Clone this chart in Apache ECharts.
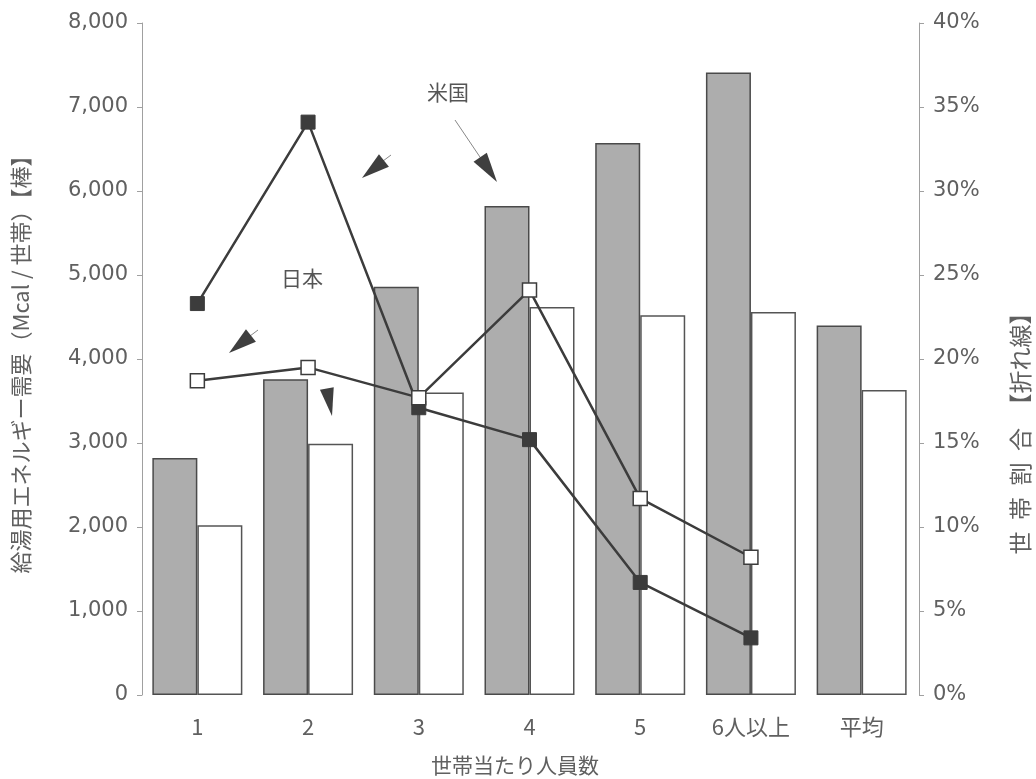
<!DOCTYPE html>
<html>
<head>
<meta charset="utf-8">
<script src="https://cdn.jsdelivr.net/npm/echarts@6/dist/echarts.min.js"></script>
<style>
  html, body { margin: 0; padding: 0; background: #fff; }
  #chart { width: 1036px; height: 779px; }
</style>
</head>
<body>
<div id="chart"></div>
<script>
// Household size categories
const categories = ['1', '2', '3', '4', '5', '6人以上', '平均'];

// Hot-water energy demand per household (Mcal / household) — bars
const demandUS    = [2820, 3760, 4860, 5820, 6570, 7410, 4400];
const demandJapan = [2020, 2990, 3600, 4620, 4520, 4560, 3630];

// Share of households by size (%) — lines (no value for the average column)
const shareUS    = [23.3, 34.1, 17.1, 15.2, 6.7, 3.4, null];
const shareJapan = [18.7, 19.5, 17.7, 24.1, 11.7, 8.2, null];

// Axis tick settings
const leftMax = 8000, leftStep = 1000;
const rightMax = 40, rightStep = 5;

const TXT = '#606060';
const INK = '#3c3c3c';
const FONT = '"DejaVu Sans", "Noto Sans CJK JP", sans-serif';
const JFONT = '"Noto Sans CJK JP", "DejaVu Sans", sans-serif';

// Build a filled arrow head polygon from a tail point towards a tip point
function arrowHead(tail, tip, len, halfW) {
  const dx = tip[0] - tail[0], dy = tip[1] - tail[1];
  const d = Math.hypot(dx, dy);
  const ux = dx / d, uy = dy / d;
  const bx = tip[0] - ux * len, by = tip[1] - uy * len;
  return [tip, [bx - uy * halfW, by + ux * halfW], [bx + uy * halfW, by - ux * halfW]];
}

const chart = echarts.init(document.getElementById('chart'), null, { renderer: 'canvas' });

const arrowStyle = { fill: '#3f3f3f' };
const EN = '\u2002';

chart.setOption({
  animation: false,
  backgroundColor: '#fff',
  grid: { left: 142, right: 119, top: 23, bottom: 84, outerBoundsMode: 'none', containLabel: false },
  xAxis: {
    type: 'category',
    data: categories,
    axisLine: { show: false },
    axisTick: { show: false },
    axisLabel: { fontSize: 22, color: TXT, margin: 21, fontFamily: JFONT }
  },
  yAxis: [
    {
      type: 'value', min: 0, max: leftMax, interval: leftStep,
      position: 'left',
      axisLine: { show: true, lineStyle: { color: '#a0a0a0', width: 1 } },
      axisTick: { show: true, length: 5, lineStyle: { color: '#a0a0a0' } },
      splitLine: { show: false },
      axisLabel: {
        fontSize: 21, color: TXT, margin: 14, fontFamily: FONT,
        formatter: v => v.toLocaleString('en-US')
      },
      name: '給湯用エネルギー需要（Mcal / 世帯）【棒】',
      nameLocation: 'middle',
      nameGap: 110,
      nameRotate: 90,
      nameTextStyle: { fontSize: 22, color: TXT, fontFamily: JFONT }
    },
    {
      type: 'value', min: 0, max: rightMax, interval: rightStep,
      position: 'right',
      offset: 2,
      axisLine: { show: true, lineStyle: { color: '#a0a0a0', width: 1 } },
      axisTick: { show: true, length: 5, lineStyle: { color: '#a0a0a0' } },
      splitLine: { show: false },
      axisLabel: {
        fontSize: 21, color: TXT, margin: 14, fontFamily: FONT,
        formatter: v => v + '%'
      }
    }
  ],
  series: [
    {
      name: '米国', type: 'bar', data: demandUS,
      barWidth: 45, barGap: '0%',
      itemStyle: { color: '#adadad', borderColor: '#4a4a4a', borderWidth: 1.5 }
    },
    {
      name: '日本', type: 'bar', data: demandJapan,
      barWidth: 45, barGap: '0%',
      itemStyle: { color: '#ffffff', borderColor: '#555555', borderWidth: 1.5 }
    },
    {
      name: '米国 世帯割合', type: 'line', yAxisIndex: 1, data: shareUS,
      symbol: 'rect', symbolSize: 14, z: 5,
      lineStyle: { color: INK, width: 2.5 },
      itemStyle: { color: INK, borderColor: INK, borderWidth: 1 }
    },
    {
      name: '日本 世帯割合', type: 'line', yAxisIndex: 1, data: shareJapan,
      symbol: 'rect', symbolSize: 14, z: 6,
      lineStyle: { color: INK, width: 2.5 },
      itemStyle: { color: '#ffffff', borderColor: INK, borderWidth: 1.5 }
    }
  ],
  graphic: [
    // right axis title, read bottom to top
    {
      type: 'text', x: 1020, y: 428, rotation: Math.PI / 2,
      style: {
        text: ['世', '帯', '割', '合'].join(EN) + EN + '【折れ線】',
        fill: TXT, font: '23px ' + JFONT,
        align: 'center', verticalAlign: 'middle'
      }
    },
    // x axis title
    {
      type: 'text', x: 515, y: 765,
      style: {
        text: '世帯当たり人員数', fill: TXT, font: '21px ' + JFONT,
        align: 'center', verticalAlign: 'middle'
      }
    },
    // series call-outs
    {
      type: 'text', x: 448, y: 92,
      style: { text: '米国', fill: '#555', font: '21px ' + JFONT, align: 'center', verticalAlign: 'middle' }
    },
    {
      type: 'text', x: 302, y: 278,
      style: { text: '日本', fill: '#555', font: '21px ' + JFONT, align: 'center', verticalAlign: 'middle' }
    },
    {
      type: 'line', shape: { x1: 455, y1: 120, x2: 484, y2: 163 },
      style: { stroke: '#888', lineWidth: 1 }
    },
    { type: 'polygon', shape: { points: arrowHead([455, 120], [497, 182], 30, 8) }, style: arrowStyle },
    {
      type: 'line', shape: { x1: 391, y1: 155, x2: 383, y2: 161 },
      style: { stroke: '#888', lineWidth: 1 }
    },
    { type: 'polygon', shape: { points: arrowHead([391, 155], [362, 178], 28, 8) }, style: arrowStyle },
    {
      type: 'line', shape: { x1: 258, y1: 330, x2: 250, y2: 336 },
      style: { stroke: '#888', lineWidth: 1 }
    },
    { type: 'polygon', shape: { points: arrowHead([258, 330], [229, 353], 28, 8) }, style: arrowStyle },
    { type: 'polygon', shape: { points: arrowHead([326, 384], [332, 416], 28, 7) }, style: arrowStyle }
  ]
});
</script>
</body>
</html>
